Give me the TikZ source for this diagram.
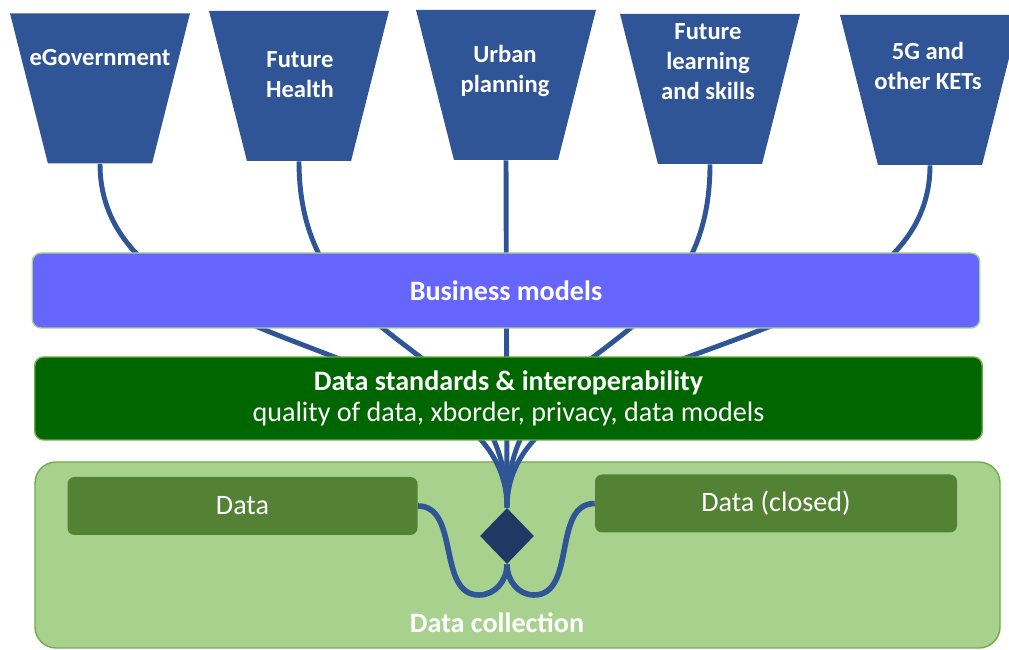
\documentclass[tikz,border=0pt]{standalone}
\usepackage{fontspec}
\setmainfont{Carlito}
\usetikzlibrary{shapes.geometric}
\definecolor{navy}{HTML}{2F5597}
\definecolor{ink}{HTML}{203864}
\definecolor{bizblue}{HTML}{6666FF}
\definecolor{stdgreen}{HTML}{006600}
\definecolor{leaf}{HTML}{70AD47}
\definecolor{pale}{HTML}{A9D18E}
\definecolor{moss}{HTML}{548235}
\newcommand\diagfont{\fontsize{14}{17}\selectfont}
\newcommand\barfont{\fontsize{16}{18}\selectfont}
\pgfdeclarelayer{back}\pgfdeclarelayer{links}\pgfsetlayers{back,links,main}
\tikzset{sector/.style={trapezium,trapezium angle=70,shape border rotate=180,trapezium stretches=true,minimum width=3.6cm,minimum height=3cm,inner sep=2pt,fill=navy}, sectortext/.style={text=white,font=\diagfont\bfseries,align=center}, band/.style={rounded corners=5pt,minimum width=18.95cm,text=white,align=center,line width=0.8pt}, source/.style={fill=moss,rounded corners=4pt,text=white,font=\barfont,minimum width=7cm,minimum height=1.16cm}, link/.style={draw=navy,line width=2.8pt}}

\begin{document}
\begin{tikzpicture}
\useasboundingbox (0,0) rectangle (20.18,13);
\clip (0,0) rectangle (20.18,13);
% collection area and its two sources
\begin{pgfonlayer}{back}
\node[draw=leaf,fill=pale,line width=0.8pt,rounded corners=12pt,minimum width=19.3cm,minimum height=3.72cm] (collect) at (10.35,1.9) {};
\end{pgfonlayer}
\node[text=white,font=\barfont\bfseries] (collecttxt) at (9.94,0.54) {Data collection};
\node[source] (open) at (4.85,2.88) {Data};
\node[source,minimum width=7.24cm] (closed) at (15.52,2.93) {Data (closed)};
\node[diamond,fill=ink,inner sep=0pt,minimum width=1.08cm,minimum height=1.12cm] (hub) at (10.14,2.28) {};
\coordinate (dipL) at (9.58,1.1);
\coordinate (dipR) at (10.68,1.1);

% the two layers
\node[band,fill=bizblue,draw=pale,minimum height=1.5cm,font=\barfont\bfseries] (biz) at (10.12,7.19) {Business models};
\node[band,fill=stdgreen,draw=leaf,minimum height=1.66cm,font=\barfont] (std) at (10.17,5.03) {\textbf{Data standards \& interoperability}\\quality of data, xborder, privacy, data models};

% domains on top
\node[sector] (egov) at (2.0,11.23) {};
\node[sector] (health) at (5.98,11.28) {};
\node[sector] (urban) at (10.12,11.30) {};
\node[sector] (learn) at (14.2,11.22) {};
\node[sector] (fiveg) at (18.6,11.2) {};
\node[sectortext] (egovtxt) at (2.0,11.84) {eGovernment};
\node[sectortext] (healthtxt) at (6.0,11.5) {Future\\Health};
\node[sectortext] (urbantxt) at (10.1,11.58) {Urban\\planning};
\node[sectortext] (learntxt) at (14.16,11.76) {Future\\learning\\and skills};
\node[sectortext] (fivegtxt) at (18.56,11.68) {5G and\\other KETs};

\begin{pgfonlayer}{links}
\draw[link] (egov.south) .. controls +(0,-4) and +(0,3.5) .. (hub.north);
\draw[link] (health.south) .. controls +(0,-4) and +(0,3.5) .. (hub.north);
\draw[link] (urban.south) -- (hub.north);
\draw[link] (learn.south) .. controls +(0,-4) and +(0,3.5) .. (hub.north);
\draw[link] (fiveg.south) .. controls +(0,-4) and +(0,3.5) .. (hub.north);
\draw[link,line width=3.2pt] (open.east) to[out=0,in=180] (dipL) to[out=0,in=-90] (hub.south);
\draw[link,line width=3.2pt] (closed.west) to[out=180,in=0] (dipR) to[out=180,in=-90] (hub.south);
\end{pgfonlayer}
\end{tikzpicture}
\end{document}
